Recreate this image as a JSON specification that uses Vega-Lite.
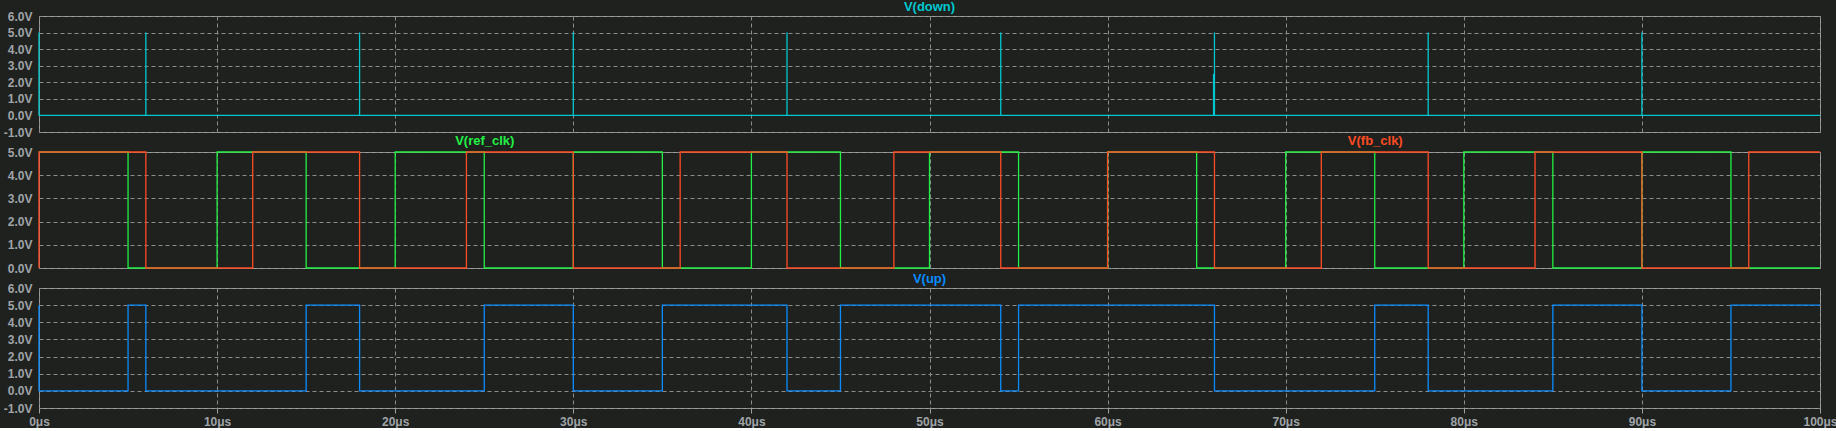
{
  "$schema": "https://vega.github.io/schema/vega-lite/v6.json",
  "background": "#1e211e",
  "padding": {"left": 2, "top": 0, "right": 0, "bottom": 0},
  "spacing": 20,
  "bounds": "flush",
  "config": {
    "font": "Liberation Sans",
    "view": {"stroke": "#a0a0a0", "strokeWidth": 1},
    "axis": {
      "labelFont": "Liberation Sans",
      "labelFontWeight": "bold",
      "labelFontSize": 12,
      "labelColor": "#a0a4a8",
      "labelFlush": false,
      "labelOverlap": false,
      "domain": false,
      "gridColor": "#8c8c8c",
      "gridDash": [4, 3],
      "gridWidth": 1,
      "gridOpacity": 1,
      "tickColor": "#a0a0a0",
      "tickSize": 5,
      "labelPadding": 3
    },
    "title": {"font": "Liberation Sans", "fontWeight": "bold", "fontSize": 13, "anchor": "middle", "offset": -4},
    "line": {"interpolate": "step-after", "strokeWidth": 1.3}
  },
  "datasets": {
    "down": [
      {"t": 0, "v": 5}, {"t": 0, "v": 0},
      {"t": 6, "v": 5}, {"t": 6, "v": 0},
      {"t": 18, "v": 5}, {"t": 18, "v": 0},
      {"t": 30, "v": 5}, {"t": 30, "v": 0},
      {"t": 42, "v": 5}, {"t": 42, "v": 0},
      {"t": 54, "v": 5}, {"t": 54, "v": 0},
      {"t": 65.95, "v": 2.5}, {"t": 65.95, "v": 0},
      {"t": 66, "v": 5}, {"t": 66, "v": 0},
      {"t": 78, "v": 5}, {"t": 78, "v": 0},
      {"t": 90, "v": 5}, {"t": 90, "v": 0},
      {"t": 100, "v": 0}
    ],
    "ref": [
      {"t": 0, "v": 5}, {"t": 5, "v": 0}, {"t": 10, "v": 5}, {"t": 15, "v": 0},
      {"t": 20, "v": 5}, {"t": 25, "v": 0}, {"t": 30, "v": 5}, {"t": 35, "v": 0},
      {"t": 40, "v": 5}, {"t": 45, "v": 0}, {"t": 50, "v": 5}, {"t": 55, "v": 0},
      {"t": 60, "v": 5}, {"t": 65, "v": 0}, {"t": 70, "v": 5}, {"t": 75, "v": 0},
      {"t": 80, "v": 5}, {"t": 85, "v": 0}, {"t": 90, "v": 5}, {"t": 95, "v": 0},
      {"t": 100, "v": 0}
    ],
    "fb": [
      {"t": 0, "v": 0}, {"t": 0, "v": 5}, {"t": 6, "v": 0}, {"t": 12, "v": 5},
      {"t": 18, "v": 0}, {"t": 24, "v": 5}, {"t": 30, "v": 0}, {"t": 36, "v": 5},
      {"t": 42, "v": 0}, {"t": 48, "v": 5}, {"t": 54, "v": 0}, {"t": 60, "v": 5},
      {"t": 66, "v": 0}, {"t": 72, "v": 5}, {"t": 78, "v": 0}, {"t": 84, "v": 5},
      {"t": 90, "v": 0}, {"t": 96, "v": 5}, {"t": 100, "v": 5}
    ],
    "up": [
      {"t": 0, "v": 5}, {"t": 0, "v": 0}, {"t": 5, "v": 5}, {"t": 6, "v": 0},
      {"t": 15, "v": 5}, {"t": 18, "v": 0}, {"t": 25, "v": 5}, {"t": 30, "v": 0},
      {"t": 35, "v": 5}, {"t": 42, "v": 0}, {"t": 45, "v": 5}, {"t": 54, "v": 0},
      {"t": 55, "v": 5}, {"t": 66, "v": 0}, {"t": 75, "v": 5}, {"t": 78, "v": 0},
      {"t": 85, "v": 5}, {"t": 90, "v": 0}, {"t": 95, "v": 5}, {"t": 100, "v": 5}
    ]
  },
  "vconcat": [
    {
      "width": 1781,
      "height": 116,
      "title": {"text": "V(down)", "color": "#00c8d0"},
      "data": {"name": "down"},
      "mark": {"type": "line", "color": "#00c8d0"},
      "encoding": {
        "x": {"field": "t", "type": "quantitative", "title": null,
          "scale": {"domain": [0, 100], "nice": false},
          "axis": {"values": [0, 10, 20, 30, 40, 50, 60, 70, 80, 90, 100], "labels": false, "ticks": false, "grid": true}},
        "y": {"field": "v", "type": "quantitative", "title": null,
          "scale": {"domain": [-1, 6], "nice": false},
          "axis": {"values": [-1, 0, 1, 2, 3, 4, 5, 6], "ticks": false, "labelPadding": 7,
            "labelExpr": "(datum.value < 0 ? '-' : '') + format(abs(datum.value), '.1f') + 'V'"}},
        "order": {"value": null}
      }
    },
    {
      "width": 1781,
      "height": 116,
      "layer": [
        {
          "data": {"name": "ref"},
          "mark": {"type": "line", "color": "#22f044"},
          "encoding": {
            "x": {"field": "t", "type": "quantitative", "title": null,
              "scale": {"domain": [0, 100], "nice": false},
              "axis": {"values": [0, 10, 20, 30, 40, 50, 60, 70, 80, 90, 100], "labels": false, "ticks": false, "grid": true}},
            "y": {"field": "v", "type": "quantitative", "title": null,
              "scale": {"domain": [0, 5], "nice": false},
              "axis": {"values": [0, 1, 2, 3, 4, 5], "ticks": false, "labelPadding": 7, "grid": true,
                "labelExpr": "(datum.value < 0 ? '-' : '') + format(abs(datum.value), '.1f') + 'V'"}},
            "order": {"value": null}
          }
        },
        {
          "data": {"name": "fb"},
          "mark": {"type": "line", "color": "#ff4b23"},
          "encoding": {
            "x": {"field": "t", "type": "quantitative", "title": null,
              "scale": {"domain": [0, 100], "nice": false},
              "axis": {"orient": "top", "values": [25, 75], "ticks": false, "grid": false,
                "labelFontSize": 13, "labelPadding": 5,
                "labelExpr": "datum.value < 50 ? 'V(ref_clk)' : 'V(fb_clk)'",
                "labelColor": {"condition": {"test": "datum.value < 50", "value": "#22f044"}, "value": "#ff4b23"}}},
            "y": {"field": "v", "type": "quantitative", "title": null,
              "scale": {"domain": [0, 5], "nice": false},
              "axis": {"values": [0, 1, 2, 3, 4, 5], "ticks": false, "labelPadding": 7, "grid": true,
                "labelExpr": "(datum.value < 0 ? '-' : '') + format(abs(datum.value), '.1f') + 'V'"}},
            "order": {"value": null}
          }
        }
      ],
      "resolve": {"axis": {"x": "independent"}}
    },
    {
      "width": 1781,
      "height": 120,
      "title": {"text": "V(up)", "color": "#0a8cff"},
      "data": {"name": "up"},
      "mark": {"type": "line", "color": "#0a8cff"},
      "encoding": {
        "x": {"field": "t", "type": "quantitative", "title": null,
          "scale": {"domain": [0, 100], "nice": false},
          "axis": {"values": [0, 10, 20, 30, 40, 50, 60, 70, 80, 90, 100], "grid": true, "ticks": true,
            "labelExpr": "datum.value + 'μs'"}},
        "y": {"field": "v", "type": "quantitative", "title": null,
          "scale": {"domain": [-1, 6], "nice": false},
          "axis": {"values": [-1, 0, 1, 2, 3, 4, 5, 6], "ticks": false, "labelPadding": 7,
            "labelExpr": "(datum.value < 0 ? '-' : '') + format(abs(datum.value), '.1f') + 'V'"}},
        "order": {"value": null}
      }
    }
  ]
}
